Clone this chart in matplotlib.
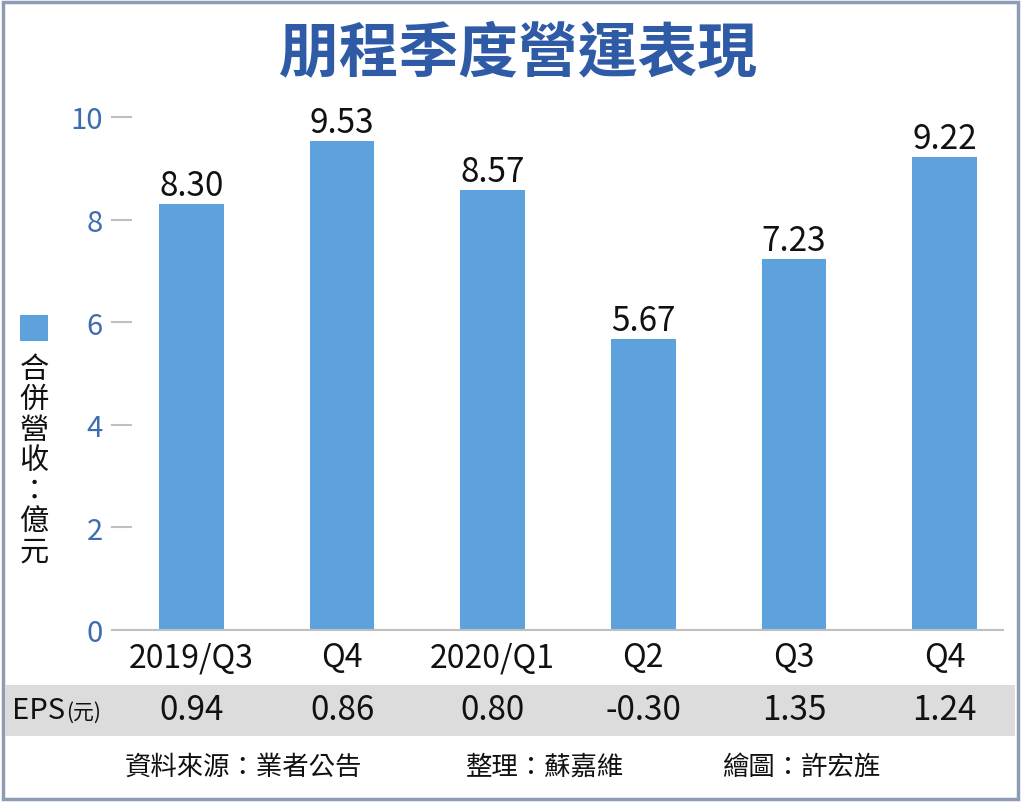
import matplotlib
matplotlib.use("Agg")
import matplotlib.pyplot as plt
import matplotlib.transforms as mtransforms
from matplotlib.patches import Rectangle

plt.rcParams['font.family'] = ['Noto Sans CJK TC', 'DejaVu Sans']

title = "朋程季度營運表現"
categories = ["2019/Q3", "Q4", "2020/Q1", "Q2", "Q3", "Q4"]
revenue = [8.30, 9.53, 8.57, 5.67, 7.23, 9.22]
eps = ["0.94", "0.86", "0.80", "-0.30", "1.35", "1.24"]
yticks = [0, 2, 4, 6, 8, 10]
ylabel_chars = ["合", "併", "營", "收", "：", "億", "元"]
footer = ["資料來源：業者公告", "整理：蘇嘉維", "繪圖：許宏旌"]

W, H = 1024, 803
fig = plt.figure(figsize=(W / 100, H / 100), dpi=100)

def fx(px):
    return px / W

def fy(py):
    return 1 - py / H

bar_color = "#5DA2DC"
title_color = "#2F5BA6"
tick_color = "#3D6DB0"

# frame
fig.patches.append(Rectangle((fx(3), fy(800)), fx(1015), (797) / H, transform=fig.transFigure,
                             fill=False, edgecolor="#8E9BB5", linewidth=2.5, zorder=-2))
# EPS band
fig.patches.append(Rectangle((fx(5), fy(737)), fx(1010), 51 / H, transform=fig.transFigure,
                             facecolor="#DCDCDC", edgecolor="none", zorder=-2))

ax_left, ax_right = 132, 1003
ax_top, ax_bottom = 118, 631
ax = fig.add_axes([fx(ax_left), fy(ax_bottom), fx(ax_right - ax_left), (ax_bottom - ax_top) / H])
ax.set_facecolor("none")

x = list(range(len(categories)))
bars = ax.bar(x, revenue, width=0.43, color=bar_color, zorder=2)
ax.set_ylim(0, 10)
c0, step = 191.5, 150.6
ax.set_xlim(-(c0 - ax_left) / step, 5 + (ax_right - (c0 + 5 * step)) / step)

for xi, v in zip(x, revenue):
    ax.annotate(f"{v:.2f}", (xi, v), xytext=(0, 1), textcoords="offset points",
                ha="center", va="bottom", fontsize=24, color="#111111", clip_on=False)

for s in ["top", "right", "left"]:
    ax.spines[s].set_visible(False)
ax.spines["bottom"].set_color("#BFBFBF")
ax.spines["bottom"].set_linewidth(1.5)

ax.set_yticks(yticks)
ax.set_yticklabels([str(t) for t in yticks])
ax.tick_params(axis="y", length=15, width=1.5, color="#BFBFBF", pad=6,
               labelsize=21, labelcolor=tick_color)
ax.set_xticks(x)
ax.set_xticklabels(categories)
ax.tick_params(axis="x", length=0, pad=8, labelsize=23, labelcolor="#111111")

# EPS row
trans = mtransforms.blended_transform_factory(ax.transData, fig.transFigure)
for xi, e in zip(x, eps):
    ax.text(xi, fy(711), e, transform=trans, ha="center", va="center",
            fontsize=24, color="#111111", clip_on=False, zorder=5)
fig.text(fx(12), fy(711), "EPS", ha="left", va="center", fontsize=21, color="#111111")
fig.text(fx(66), fy(713), "(元)", ha="left", va="center", fontsize=15, color="#111111")

# title
fig.text(fx(518), fy(55), title, ha="center", va="center", fontsize=43,
         color=title_color, fontweight="bold")

# y label with legend square
fig.patches.append(Rectangle((fx(20), fy(342)), fx(28), 26 / H, transform=fig.transFigure,
                             facecolor=bar_color, edgecolor="none"))
fig.text(fx(34), fy(461), "\n".join(ylabel_chars), ha="center", va="center",
         fontsize=21, color="#111111", linespacing=1.02)

# footer
fig.text(fx(125), fy(767), footer[0], ha="left", va="center", fontsize=19, color="#111111")
fig.text(fx(466), fy(767), footer[1], ha="left", va="center", fontsize=19, color="#111111")
fig.text(fx(722), fy(767), footer[2], ha="left", va="center", fontsize=19, color="#111111")

fig.savefig("out.png", dpi=100)
